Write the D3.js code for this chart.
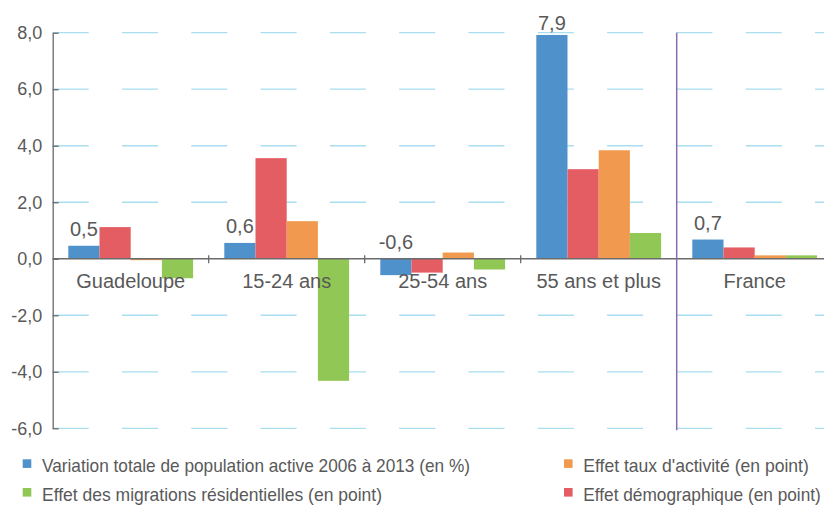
<!DOCTYPE html>
<html lang="fr">
<head>
  <meta charset="UTF-8">
  <title>Variation de la population active</title>
  <style>
    body {
      margin: 0;
      background: #fff;
      font-family: "Liberation Sans", Arial, sans-serif;
      overflow: hidden;
    }
    svg { display: block; }
    .tick text, .cat, .val { fill: #595959; }
  </style>
</head>
<body>
  <svg width="824" height="505"></svg>

  <script src="https://d3js.org/d3.v7.min.js"></script>
  <script>
    // data
    const categories = ["Guadeloupe", "15-24 ans", "25-54 ans", "55 ans et plus", "France"];
    const variationTotale = [0.46, 0.56, -0.58, 7.92, 0.68];
    const effetDemo = [1.12, 3.56, -0.49, 3.17, 0.40];
    const effetTaux = [-0.05, 1.33, 0.22, 3.84, 0.12];
    const effetMigr = [-0.69, -4.32, -0.38, 0.91, 0.12];
    const yTicks = [-6, -4, -2, 0, 2, 4, 6, 8];

    const series = [
      { key: "total", label: "Variation totale de population active 2006 à 2013 (en %)", values: variationTotale, color: "#4e91cb" },
      { key: "demo", label: "Effet démographique (en point)", values: effetDemo, color: "#e45d63" },
      { key: "taux", label: "Effet taux d'activité (en point)", values: effetTaux, color: "#f19a4f" },
      { key: "migr", label: "Effet des migrations résidentielles (en point)", values: effetMigr, color: "#91c855" }
    ];

    const fr = d3.formatLocale({ decimal: ",", thousands: " ", grouping: [3], currency: ["", " €"], minus: "-" });
    const fmt = fr.format(".1f");

    const svg = d3.select("svg");
    const plotLeft = 52.7, plotRight = 832.7, plotTop = 32.7, plotBottom = 428.3;

    const y = d3.scaleLinear().domain([-6, 8]).range([plotBottom, plotTop]);
    const x0 = d3.scaleBand().domain(categories).range([plotLeft, plotRight]);
    const bw = x0.bandwidth();
    const x1 = d3.scaleBand().domain(series.map(s => s.key)).range([bw * 0.1, bw * 0.9]);

    // dashed gridlines
    svg.append("g")
      .selectAll("line")
      .data(yTicks.filter(t => t !== 0))
      .join("line")
      .attr("x1", plotLeft).attr("x2", 824)
      .attr("y1", d => y(d)).attr("y2", d => y(d))
      .attr("stroke", "#a9ddf0")
      .attr("stroke-width", 1.3)
      .attr("stroke-dasharray", "36 33.3");

    // bars
    const groups = svg.append("g")
      .selectAll("g")
      .data(categories)
      .join("g")
      .attr("transform", c => `translate(${x0(c)},0)`);

    groups.selectAll("rect")
      .data((c, i) => series.map(s => ({ key: s.key, color: s.color, v: s.values[i] })))
      .join("rect")
      .attr("x", d => x1(d.key))
      .attr("width", x1.bandwidth())
      .attr("y", d => y(Math.max(0, d.v)))
      .attr("height", d => Math.abs(y(d.v) - y(0)))
      .attr("fill", d => d.color);

    // y axis
    const yAxis = d3.axisLeft(y)
      .tickValues(yTicks)
      .tickFormat(fmt)
      .tickSizeInner(-6)
      .tickSizeOuter(0)
      .tickPadding(10.5);

    const ya = svg.append("g")
      .attr("transform", `translate(${plotLeft},0)`)
      .call(yAxis);
    ya.select(".domain").attr("stroke", "#6b6b6b").attr("stroke-width", 1.3);
    ya.selectAll(".tick line").attr("stroke", "#6b6b6b").attr("stroke-width", 1.3);
    ya.selectAll(".tick text")
      .attr("font-size", 18)
      .attr("font-family", "'Liberation Sans', Arial, sans-serif")
      .attr("fill", "#595959");

    // zero baseline and category ticks
    svg.append("line")
      .attr("x1", plotLeft).attr("x2", 824)
      .attr("y1", y(0)).attr("y2", y(0))
      .attr("stroke", "#6b6b6b").attr("stroke-width", 1.3);

    svg.append("g")
      .selectAll("line")
      .data(categories.slice(1, 4))
      .join("line")
      .attr("x1", c => x0(c)).attr("x2", c => x0(c))
      .attr("y1", y(0) - 3.5).attr("y2", y(0) + 4.5)
      .attr("stroke", "#6b6b6b").attr("stroke-width", 1.3);

    // separator before France
    svg.append("line")
      .attr("x1", x0("France")).attr("x2", x0("France"))
      .attr("y1", plotTop).attr("y2", plotBottom + 2)
      .attr("stroke", "#8a6bb0").attr("stroke-width", 1.5);

    // category labels
    svg.append("g")
      .selectAll("text")
      .data(categories)
      .join("text")
      .attr("class", "cat")
      .attr("x", c => x0(c) + bw / 2)
      .attr("y", y(0) + 29.5)
      .attr("text-anchor", "middle")
      .attr("font-size", 20)
      .text(c => c);

    // value labels on the first series
    svg.append("g")
      .selectAll("text")
      .data(categories)
      .join("text")
      .attr("class", "val")
      .attr("x", (c, i) => x0(c) + x1("total") + x1.bandwidth() / 2)
      .attr("y", (c, i) => Math.max(29.5, y(Math.max(0, variationTotale[i])) - 10))
      .attr("text-anchor", "middle")
      .attr("font-size", 20)
      .text((c, i) => fmt(variationTotale[i]));

    // legend
    const legendItems = [
      { s: series[0], x: 22.7, y: 472.3, w: 428 },
      { s: series[2], x: 564, y: 472.3, w: 225.5 },
      { s: series[3], x: 22.7, y: 501, w: 340 },
      { s: series[1], x: 564, y: 501, w: 237.5 }
    ];

    const lg = svg.append("g")
      .selectAll("g")
      .data(legendItems)
      .join("g");

    lg.append("rect")
      .attr("x", d => d.x)
      .attr("y", d => d.y - 13)
      .attr("width", 8.6)
      .attr("height", 8.6)
      .attr("fill", d => d.s.color);

    lg.append("text")
      .attr("x", d => d.x + 19.3)
      .attr("y", d => d.y)
      .attr("font-size", 19)
      .attr("fill", "#595959")
      .attr("textLength", d => d.w)
      .attr("lengthAdjust", "spacingAndGlyphs")
      .text(d => d.s.label);
  </script>
</body>
</html>
